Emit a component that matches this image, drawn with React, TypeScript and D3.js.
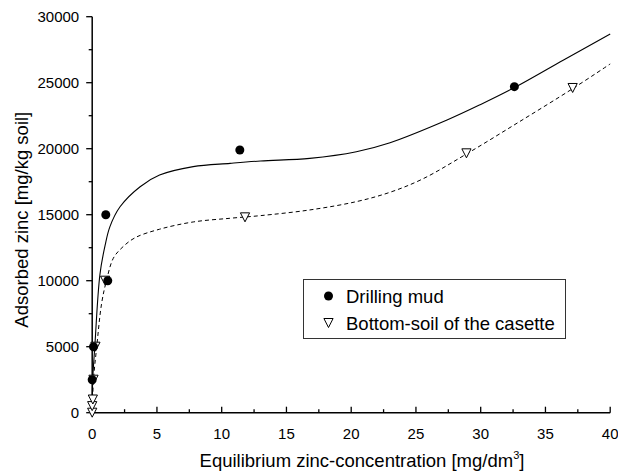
import React from "react";
import * as d3 from "d3";

const xTicks = [0, 5, 10, 15, 20, 25, 30, 35, 40];
const yTicks = [0, 5000, 10000, 15000, 20000, 25000, 30000];

// measured points
const mudPoints: [number, number][] = [
  [0.0, 2500], [0.1, 5000], [1.2, 10000], [1.05, 15000], [11.4, 19900], [32.6, 24700],
];
const soilPoints: [number, number][] = [
  [0, 0], [0, 500], [0.05, 1000], [0.1, 2500], [0.25, 5000], [1.0, 10000],
  [11.8, 14800], [28.9, 19650], [37.1, 24600],
];

// fitted curves
const mudCurve: [number, number][] = [
  [0, 0], [0.04, 2500], [0.2, 5000], [0.6, 10500], [1.0, 12700], [1.37, 14100],
  [2.15, 15600], [3.7, 17120], [5.2, 18000], [7.8, 18640], [10.65, 18890],
  [13, 19070], [16.8, 19270], [20.4, 19770], [23, 20450], [27.4, 22170],
  [30, 23350], [32.65, 24650], [36.4, 26720], [40, 28690],
];
const soilCurve: [number, number][] = [
  [0, 0], [0.1, 2500], [0.35, 5000], [0.73, 8300], [1.1, 10000], [1.63, 11700],
  [2.3, 12500], [3.3, 13250], [5.2, 13900], [7.8, 14450], [10.65, 14730],
  [13, 14930], [16.8, 15360], [20.4, 15990], [23, 16700], [25.5, 17700],
  [28.9, 19600], [33, 22050], [37.15, 24580], [40, 26420],
];

const legendLabels = ["Drilling mud", "Bottom-soil of the casette"];

const FONT = "'Liberation Sans', Arial, sans-serif";

export default function App() {
  const W = 618, H = 473;
  const x = d3.scaleLinear().domain([0, 40]).range([92.2, 610.2]);
  const y = d3.scaleLinear().domain([0, 30000]).range([412.7, 16.7]);

  const line = d3
    .line<[number, number]>()
    .x((d) => x(d[0]))
    .y((d) => y(d[1]))
    .curve(d3.curveCatmullRom.alpha(0.5));

  const xMinor = d3.range(0, 40.01, 2.5);
  const yMinor = d3.range(0, 30001, 2500);

  const tri = (cx: number, cy: number, key?: string | number) => {
    const s = 4.6;
    const h = 8;
    return (
      <path
        key={key}
        d={`M${cx - s},${cy - h / 2 - 0.5}L${cx + s},${cy - h / 2 - 0.5}L${cx},${cy + h / 2 + 0.5}Z`}
        fill="white"
        stroke="black"
        strokeWidth={1}
      />
    );
  };

  return (
    <svg
      width={W}
      height={H}
      style={{ position: "absolute", left: 0, top: 0, background: "white" }}
      fontFamily={FONT}
    >
      <rect x={0} y={0} width={W} height={H} fill="white" />
      {/* curves */}
      <path d={line(soilCurve) || ""} fill="none" stroke="black" strokeWidth={1} strokeDasharray="4,3" />
      <path d={line(mudCurve) || ""} fill="none" stroke="black" strokeWidth={1.1} />

      {/* axes */}
      <line x1={x(0)} x2={x(0)} y1={y(0)} y2={y(30000)} stroke="black" strokeWidth={1.5} />
      <line x1={x(0)} x2={x(40)} y1={y(0)} y2={y(0)} stroke="black" strokeWidth={1.5} />
      {yMinor.map((v) => (
        <line key={"ym" + v} x1={x(0)} x2={x(0) - (v % 5000 === 0 ? 6 : 3.5)} y1={y(v)} y2={y(v)} stroke="black" strokeWidth={1.3} />
      ))}
      {xMinor.map((v) => (
        <line key={"xm" + v} x1={x(v)} x2={x(v)} y1={y(0)} y2={y(0) - (v % 5 === 0 ? 6 : 3.5)} stroke="black" strokeWidth={1.3} />
      ))}
      {yTicks.map((v) => (
        <text key={"yt" + v} x={x(0) - 13} y={y(v) + 5.3} textAnchor="end" fontSize={15}>
          {v}
        </text>
      ))}
      {xTicks.map((v) => (
        <text key={"xt" + v} x={x(v)} y={439} textAnchor="middle" fontSize={15}>
          {v}
        </text>
      ))}
      <text x={362} y={467} textAnchor="middle" fontSize={18.5}>
        Equilibrium zinc-concentration [mg/dm
        <tspan fontSize={11} dy={-8}>3</tspan>
        <tspan dy={8}>]</tspan>
      </text>
      <text transform={`translate(28,${y(15000) + 5}) rotate(-90)`} textAnchor="middle" fontSize={18.5}>
        Adsorbed zinc [mg/kg soil]
      </text>

      {/* markers */}
      {soilPoints.map((d, i) => tri(x(d[0]), y(d[1]), "s" + i))}
      {mudPoints.map((d, i) => (
        <circle key={"m" + i} cx={x(d[0])} cy={y(d[1])} r={4.5} fill="black" />
      ))}

      {/* legend */}
      <rect x={303.5} y={279.5} width={262} height={59} fill="white" stroke="#333" strokeWidth={1} />
      <circle cx={328.5} cy={296} r={4.5} fill="black" />
      {tri(328.5, 323)}
      <text x={346} y={302.5} fontSize={18.5}>{legendLabels[0]}</text>
      <text x={346} y={329.5} fontSize={18.5}>{legendLabels[1]}</text>
    </svg>
  );
}
